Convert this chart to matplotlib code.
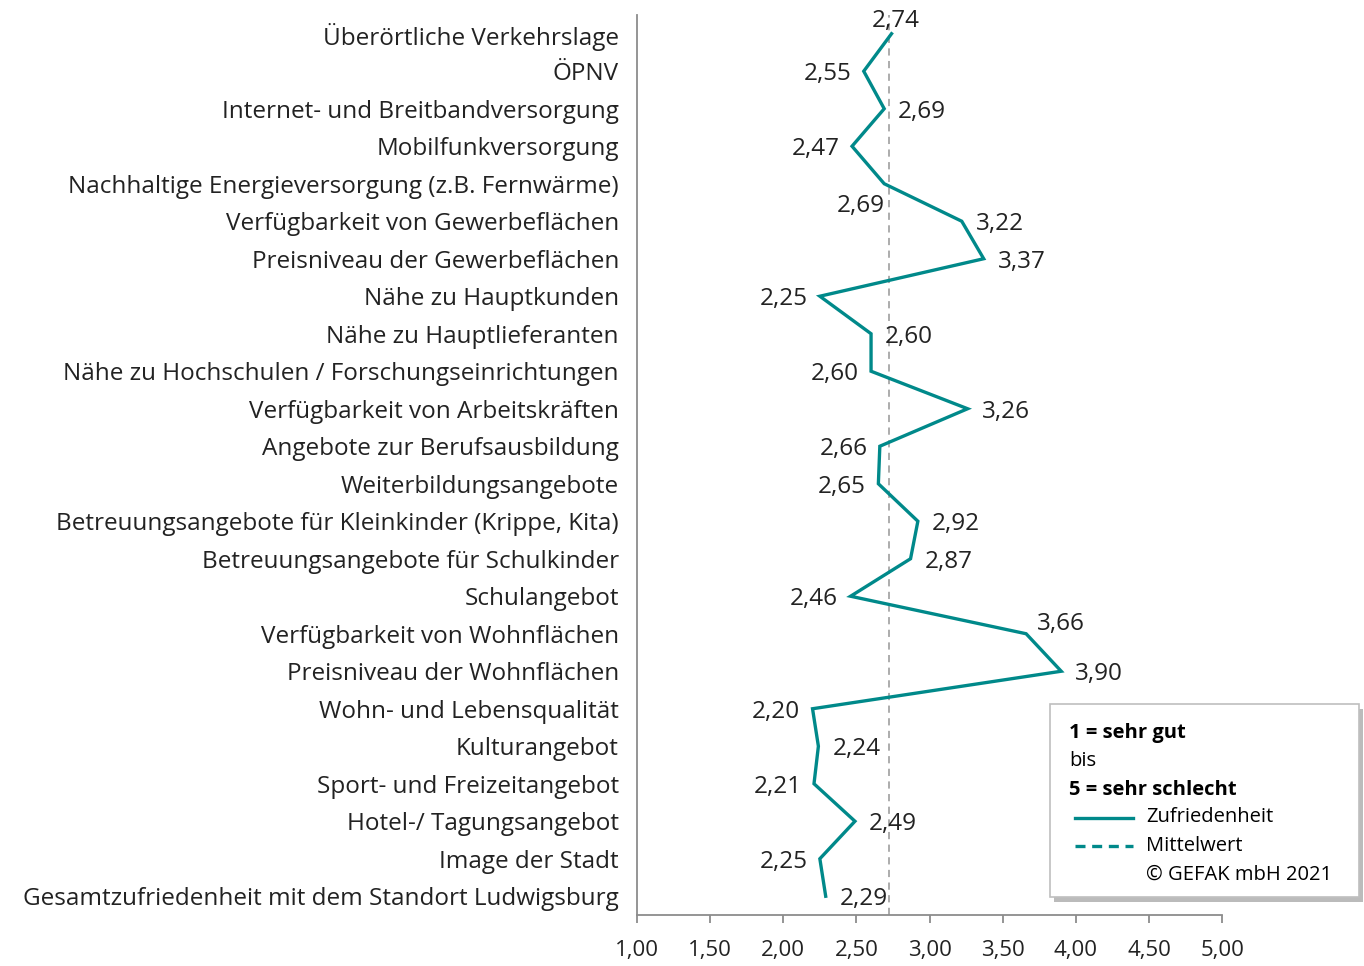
import numpy as np
import matplotlib.pyplot as plt
from matplotlib.lines import Line2D
from matplotlib.patches import Rectangle

plt.rcParams['font.family'] = ['Open Sans', 'DejaVu Sans']

categories = [
    'Überörtliche Verkehrslage',
    'ÖPNV',
    'Internet- und Breitbandversorgung',
    'Mobilfunkversorgung',
    'Nachhaltige Energieversorgung (z.B. Fernwärme)',
    'Verfügbarkeit von Gewerbeflächen',
    'Preisniveau der Gewerbeflächen',
    'Nähe zu Hauptkunden',
    'Nähe zu Hauptlieferanten',
    'Nähe zu Hochschulen / Forschungseinrichtungen',
    'Verfügbarkeit von Arbeitskräften',
    'Angebote zur Berufsausbildung',
    'Weiterbildungsangebote',
    'Betreuungsangebote für Kleinkinder (Krippe, Kita)',
    'Betreuungsangebote für Schulkinder',
    'Schulangebot',
    'Verfügbarkeit von Wohnflächen',
    'Preisniveau der Wohnflächen',
    'Wohn- und Lebensqualität',
    'Kulturangebot',
    'Sport- und Freizeitangebot',
    'Hotel-/ Tagungsangebot',
    'Image der Stadt',
    'Gesamtzufriedenheit mit dem Standort Ludwigsburg',
]
values = [2.74, 2.55, 2.69, 2.47, 2.69, 3.22, 3.37, 2.25, 2.60, 2.60, 3.26, 2.66,
          2.65, 2.92, 2.87, 2.46, 3.66, 3.90, 2.20, 2.24, 2.21, 2.49, 2.25, 2.29]
# where each value label sits relative to its point
label_pos = ['above', 'left', 'right', 'left', 'below', 'right', 'right', 'left',
             'right', 'left', 'right', 'left', 'left', 'right', 'right', 'left',
             'aboveright', 'right', 'left', 'right', 'left', 'right', 'left', 'right']
mean_value = 2.72
xticks = [1.0, 1.5, 2.0, 2.5, 3.0, 3.5, 4.0, 4.5, 5.0]

teal = '#00898A'
grey = '#8C8C8C'
txtc = '#222222'
fs = 17.5

fig = plt.figure(figsize=(13.64, 9.66), dpi=100)
ax = fig.add_axes([0.467, 0.0528, 0.429, 0.9317])

y = np.arange(len(categories))
ax.plot(values, y, color=teal, lw=2.4, solid_joinstyle='miter', zorder=3)
ax.axvline(mean_value, color='#A6A6A6', lw=1.3, ls=(0, (4, 3)), zorder=2)

offsets = {
    'left': ((-9, 0), 'right'),
    'right': ((10, 0), 'left'),
    'above': ((3, 11), 'center'),
    'aboveright': ((8, 9), 'left'),
    'below': ((-17, -14), 'center'),
}
for v, yi, pos in zip(values, y, label_pos):
    txt = f'{v:.2f}'.replace('.', ',')
    off, ha = offsets[pos]
    ax.annotate(txt, (v, yi), xytext=off, textcoords='offset points',
                ha=ha, va='center_baseline', fontsize=fs, color=txtc)

ax.set_xlim(1, 5)
ax.set_ylim(len(categories) - 0.5, -0.5)
ax.set_yticks(y)
ax.set_yticklabels(categories, fontsize=fs, color=txtc)
ax.tick_params(axis='y', length=0, pad=13)
ax.set_xticks(xticks)
ax.set_xticklabels([f'{t:.2f}'.replace('.', ',') for t in xticks], fontsize=16, color=txtc)
ax.tick_params(axis='x', length=6, width=1.3, color=grey, pad=12)
for s in ['top', 'right']:
    ax.spines[s].set_visible(False)
for s in ['left', 'bottom']:
    ax.spines[s].set_color(grey)
    ax.spines[s].set_linewidth(1.3)

# legend box (bottom right)
bx, by, bw, bh = 0.770, 0.071, 0.226, 0.200
fig.patches.append(Rectangle((bx + 0.003, by - 0.005), bw, bh, transform=fig.transFigure,
                             facecolor='#BBBBBB', edgecolor='none', zorder=1))
fig.patches.append(Rectangle((bx, by), bw, bh, transform=fig.transFigure,
                             facecolor='white', edgecolor='#BFBFBF', lw=1.2, zorder=2))
lfs = 14.5
tx = bx + 0.014
fig.text(tx, 0.241, '1 = sehr gut', fontsize=lfs, fontweight='bold', va='center', zorder=3)
fig.text(tx, 0.212, 'bis', fontsize=lfs, va='center', zorder=3)
fig.text(tx, 0.182, '5 = sehr schlecht', fontsize=lfs, fontweight='bold', va='center', zorder=3)
fig.lines.append(Line2D([bx + 0.018, bx + 0.061], [0.153, 0.153], transform=fig.transFigure,
                        color=teal, lw=2.4, zorder=3))
fig.lines.append(Line2D([bx + 0.018, bx + 0.061], [0.124, 0.124], transform=fig.transFigure,
                        color=teal, lw=2.4, ls=(0, (3, 2)), zorder=3))
fig.text(bx + 0.070, 0.154, 'Zufriedenheit', fontsize=lfs, va='center', zorder=3)
fig.text(bx + 0.070, 0.124, 'Mittelwert', fontsize=lfs, va='center', zorder=3)
fig.text(bx + 0.070, 0.094, '© GEFAK mbH 2021', fontsize=lfs, va='center', zorder=3)

fig.savefig('out.png', dpi=100)
